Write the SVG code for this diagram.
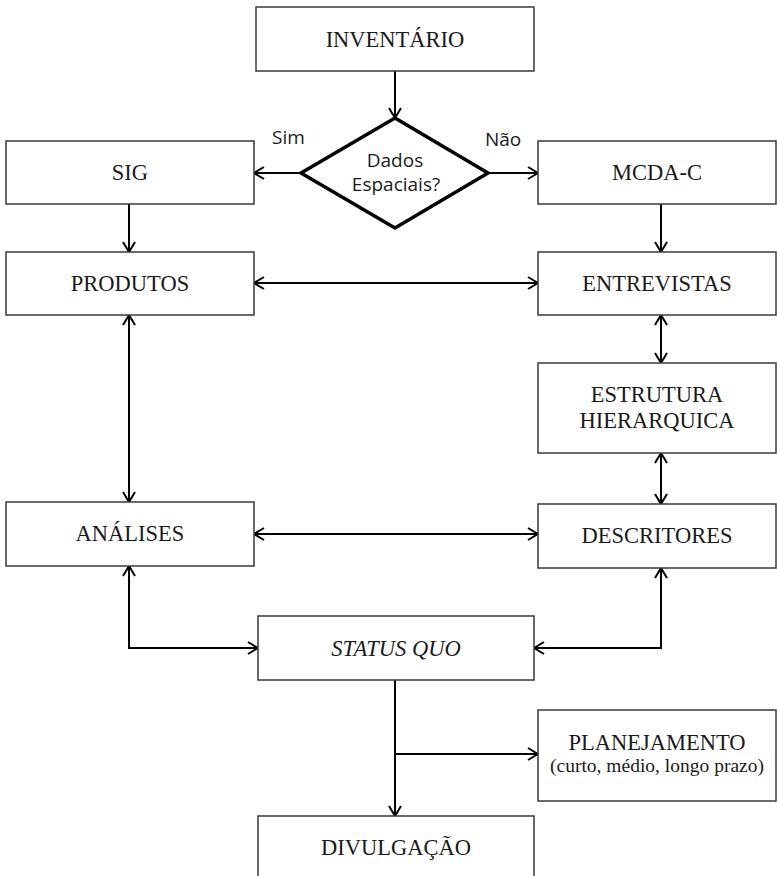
<svg xmlns="http://www.w3.org/2000/svg" width="777" height="876" viewBox="0 0 777 876">
  <style>
    .box { fill: #ffffff; stroke: #3a3a3a; stroke-width: 1.5; }
    .dia { fill: #ffffff; stroke: #000000; stroke-width: 3.5; stroke-linejoin: miter; }
    .lbl { font-family: "Liberation Serif", "Times New Roman", serif; font-size: 22.5px; fill: #1a1a1a; text-anchor: middle; }
    .sub { font-size: 19.5px; }
    .it { font-style: italic; }
    .sans { font-family: "Open Sans", "Noto Sans", "DejaVu Sans", sans-serif; font-size: 19px; fill: #1a1a1a; }
    .mid { text-anchor: middle; }
    .con { fill: none; stroke: #000000; stroke-width: 2; }
  </style>
  <defs>
    <marker id="arrow" viewBox="0 0 12 14" refX="11" refY="7" markerWidth="12" markerHeight="14" markerUnits="userSpaceOnUse" orient="auto-start-reverse">
      <path d="M1,1 L11,7 L1,13" fill="none" stroke="#000000" stroke-width="2"/>
    </marker>
  </defs>

  <rect width="777" height="876" fill="#ffffff"/>

  <g id="connectors">
    <line class="con" x1="395" y1="71" x2="395" y2="118" marker-end="url(#arrow)"/>
    <line class="con" x1="301" y1="173" x2="254" y2="173" marker-end="url(#arrow)"/>
    <line class="con" x1="488" y1="173" x2="538" y2="173" marker-end="url(#arrow)"/>
    <line class="con" x1="129" y1="204" x2="129" y2="252" marker-end="url(#arrow)"/>
    <line class="con" x1="661" y1="204" x2="661" y2="252" marker-end="url(#arrow)"/>
    <line class="con" x1="254" y1="283" x2="538" y2="283" marker-start="url(#arrow)" marker-end="url(#arrow)"/>
    <line class="con" x1="661" y1="315" x2="661" y2="363" marker-start="url(#arrow)" marker-end="url(#arrow)"/>
    <line class="con" x1="661" y1="453" x2="661" y2="504" marker-start="url(#arrow)" marker-end="url(#arrow)"/>
    <line class="con" x1="129" y1="315" x2="129" y2="502" marker-start="url(#arrow)" marker-end="url(#arrow)"/>
    <line class="con" x1="254" y1="534" x2="538" y2="534" marker-start="url(#arrow)" marker-end="url(#arrow)"/>
    <polyline class="con" points="129,566 129,648 258,648" marker-start="url(#arrow)" marker-end="url(#arrow)"/>
    <polyline class="con" points="661,568 661,648 534,648" marker-start="url(#arrow)" marker-end="url(#arrow)"/>
    <line class="con" x1="395" y1="680" x2="395" y2="816" marker-end="url(#arrow)"/>
    <line class="con" x1="395" y1="754" x2="538" y2="754" marker-end="url(#arrow)"/>
  </g>

  <g id="inventario">
    <rect class="box" x="256" y="7" width="278" height="64"/>
    <text class="lbl" x="395" y="47">INVENTÁRIO</text>
  </g>

  <g id="dados-espaciais">
    <polygon class="dia" points="395,118 488,173 395,228 301,173"/>
    <text class="sans mid" x="395" y="167">Dados</text>
    <text class="sans mid" x="396" y="191">Espaciais?</text>
    <text class="sans" x="272" y="144">Sim</text>
    <text class="sans" x="485" y="146">Não</text>
  </g>

  <g id="sig">
    <rect class="box" x="6" y="141" width="248" height="63"/>
    <text class="lbl" x="130" y="180">SIG</text>
  </g>

  <g id="mcda-c">
    <rect class="box" x="538" y="141" width="238" height="63"/>
    <text class="lbl" x="657" y="180">MCDA-C</text>
  </g>

  <g id="produtos">
    <rect class="box" x="6" y="252" width="248" height="63"/>
    <text class="lbl" x="130" y="291">PRODUTOS</text>
  </g>

  <g id="entrevistas">
    <rect class="box" x="538" y="252" width="238" height="63"/>
    <text class="lbl" x="657" y="291">ENTREVISTAS</text>
  </g>

  <g id="estrutura">
    <rect class="box" x="538" y="363" width="238" height="90"/>
    <text class="lbl" x="657" y="402">ESTRUTURA</text>
    <text class="lbl" x="657" y="428">HIERARQUICA</text>
  </g>

  <g id="analises">
    <rect class="box" x="6" y="502" width="248" height="64"/>
    <text class="lbl" x="130" y="541">ANÁLISES</text>
  </g>

  <g id="descritores">
    <rect class="box" x="538" y="504" width="238" height="64"/>
    <text class="lbl" x="657" y="543">DESCRITORES</text>
  </g>

  <g id="status-quo">
    <rect class="box" x="258" y="616" width="276" height="64"/>
    <text class="lbl it" x="396" y="656">STATUS QUO</text>
  </g>

  <g id="planejamento">
    <rect class="box" x="538" y="710" width="238" height="91"/>
    <text class="lbl" x="657" y="750">PLANEJAMENTO</text>
    <text class="lbl sub" x="657" y="772">(curto, médio, longo prazo)</text>
  </g>

  <g id="divulgacao">
    <rect class="box" x="258" y="816" width="276" height="66"/>
    <text class="lbl" x="396" y="855">DIVULGAÇÃO</text>
  </g>
</svg>
